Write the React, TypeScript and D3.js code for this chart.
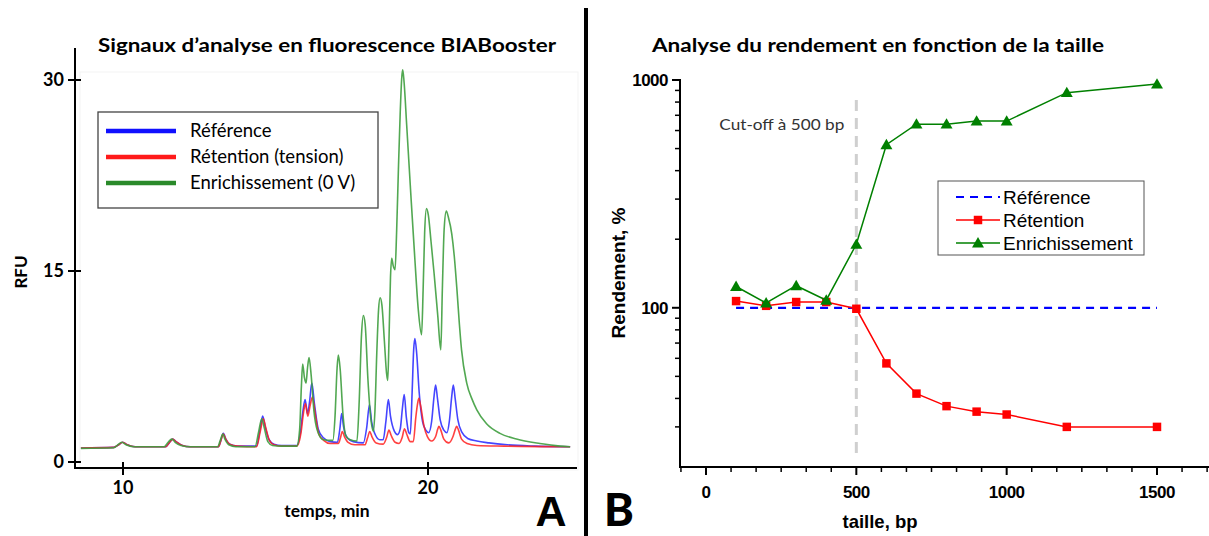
import React from 'react';
import * as d3 from 'd3';

// ---------- Texts ----------
const leftTitle = 'Signaux d’analyse en fluorescence BIABooster';
const rightTitle = 'Analyse du rendement en fonction de la taille';
const leftLegend = ['Référence', 'Rétention (tension)', 'Enrichissement (0 V)'];
const rightLegend = ['Référence', 'Rétention', 'Enrichissement'];

// ---------- Panel A : ticks ----------
const leftYTicks = [0, 15, 30];
const leftXTicks = [10, 20];

// ---------- Panel A : traces [time min, RFU] ----------
const blueTrace: [number, number][] = [
  [8.62, 1.1], [9.7, 1.15], [9.86, 1.35], [9.99, 1.55], [10.14, 1.35], [10.4, 1.2],
  [11.4, 1.2], [11.53, 1.55], [11.63, 1.8], [11.74, 1.6], [11.95, 1.3], [12.2, 1.2],
  [13.13, 1.2], [13.21, 1.7], [13.29, 2.25], [13.37, 1.8], [13.5, 1.4], [13.75, 1.25],
  [14.38, 1.25], [14.49, 2.5], [14.58, 3.6], [14.66, 2.8], [14.78, 1.8], [14.95, 1.4], [15.2, 1.3],
  [15.7, 1.3], [15.81, 2.2], [15.9, 4.0], [15.97, 4.9], [16.05, 3.8], [16.12, 4.8], [16.19, 6.2],
  [16.28, 4.5], [16.4, 2.6], [16.57, 1.9], [16.8, 1.6], [17.03, 1.55], [17.11, 2.6], [17.17, 3.8],
  [17.23, 2.8], [17.35, 1.9], [17.55, 1.6], [17.88, 1.5], [17.99, 2.7], [18.08, 4.5], [18.15, 3.2],
  [18.28, 2.1], [18.42, 1.75], [18.53, 1.75], [18.62, 3.2], [18.7, 4.9], [18.77, 3.6], [18.9, 2.4],
  [19.0, 2.15], [19.09, 2.6], [19.16, 4.2], [19.22, 5.3], [19.29, 3.5], [19.37, 2.3], [19.42, 2.2],
  [19.48, 5.5], [19.53, 8.8], [19.57, 9.7], [19.63, 8.5], [19.71, 5.5], [19.82, 3.2], [19.93, 2.5],
  [20.02, 2.3], [20.12, 3.2], [20.2, 5.2], [20.25, 6.05], [20.31, 5.0], [20.4, 3.3], [20.52, 2.5],
  [20.62, 2.3], [20.7, 3.2], [20.78, 5.2], [20.83, 6.05], [20.89, 5.0], [20.98, 3.3], [21.12, 2.3],
  [21.3, 1.85], [21.6, 1.65], [22.0, 1.5], [22.6, 1.35], [23.5, 1.25], [24.66, 1.2],
];

const redTrace: [number, number][] = [
  [8.62, 1.1], [9.7, 1.15], [9.86, 1.35], [9.99, 1.55], [10.14, 1.35], [10.4, 1.2],
  [11.4, 1.2], [11.53, 1.55], [11.63, 1.8], [11.74, 1.6], [11.95, 1.3], [12.2, 1.2],
  [13.13, 1.2], [13.21, 1.7], [13.29, 2.2], [13.37, 1.8], [13.5, 1.4], [13.75, 1.25],
  [14.38, 1.2], [14.5, 2.4], [14.6, 3.4], [14.68, 2.7], [14.8, 1.7], [14.95, 1.35], [15.2, 1.25],
  [15.7, 1.25], [15.83, 2.2], [15.92, 3.9], [15.98, 4.6], [16.06, 3.6], [16.14, 4.5], [16.21, 5.1],
  [16.3, 3.8], [16.42, 2.2], [16.58, 1.7], [16.8, 1.45], [17.06, 1.45], [17.13, 1.9], [17.19, 2.4],
  [17.26, 2.0], [17.38, 1.55], [17.6, 1.35], [17.93, 1.35], [18.02, 1.9], [18.09, 2.4], [18.16, 2.0],
  [18.3, 1.5], [18.53, 1.4], [18.64, 1.9], [18.72, 2.5], [18.79, 2.1], [18.92, 1.55], [19.05, 1.45],
  [19.15, 1.9], [19.23, 2.6], [19.3, 2.2], [19.42, 1.6], [19.52, 1.6], [19.6, 3.5], [19.66, 4.6],
  [19.7, 5.0], [19.76, 4.4], [19.87, 2.8], [19.98, 2.0], [20.12, 1.65], [20.25, 2.0], [20.32, 2.6],
  [20.36, 2.8], [20.42, 2.5], [20.52, 1.8], [20.68, 1.5], [20.82, 2.0], [20.9, 2.6], [20.94, 2.8],
  [21.0, 2.5], [21.1, 1.8], [21.28, 1.45], [21.6, 1.3], [22.5, 1.25], [24.66, 1.2],
];

const greenTrace: [number, number][] = [
  [8.62, 1.07], [9.7, 1.12], [9.83, 1.35], [9.96, 1.55], [10.1, 1.35], [10.35, 1.2],
  [11.35, 1.2], [11.48, 1.55], [11.6, 1.8], [11.71, 1.55], [11.9, 1.3], [12.2, 1.2],
  [13.1, 1.2], [13.19, 1.7], [13.27, 2.2], [13.35, 1.75], [13.47, 1.35], [13.7, 1.2],
  [14.33, 1.2], [14.45, 2.4], [14.55, 3.4], [14.63, 2.7], [14.75, 1.6], [14.9, 1.3], [15.2, 1.25],
  [15.7, 1.25], [15.79, 2.5], [15.85, 6.0], [15.89, 7.7], [15.95, 6.6], [16.0, 6.2], [16.05, 7.4],
  [16.1, 8.2], [16.17, 6.8], [16.26, 4.0], [16.37, 2.5], [16.57, 1.75], [16.88, 1.7],
  [16.95, 3.5], [17.02, 7.4], [17.06, 8.4], [17.12, 7.3], [17.21, 3.8], [17.3, 2.1], [17.45, 1.75],
  [17.67, 1.65], [17.74, 4.5], [17.82, 10.0], [17.88, 11.5], [17.94, 10.8], [18.03, 6.5],
  [18.13, 3.3], [18.21, 2.4], [18.26, 4.0], [18.32, 8.5], [18.38, 12.0], [18.43, 12.9],
  [18.49, 12.3], [18.57, 9.5], [18.64, 7.0], [18.68, 6.4], [18.72, 9.5], [18.77, 14.5],
  [18.81, 16.0], [18.86, 15.4], [18.92, 15.1], [18.97, 18.0], [19.03, 23.0], [19.09, 27.5],
  [19.14, 30.2], [19.17, 30.8], [19.21, 30.0], [19.3, 26.5], [19.45, 20.5], [19.57, 15.9],
  [19.68, 12.0], [19.79, 10.0], [19.84, 13.5], [19.89, 18.0], [19.95, 19.9], [20.01, 19.4],
  [20.1, 17.3], [20.2, 14.8], [20.32, 11.5], [20.42, 8.8], [20.47, 13.5], [20.53, 18.3],
  [20.6, 19.7], [20.67, 19.2], [20.78, 17.9], [20.86, 16.2], [20.95, 13.5], [21.03, 10.8],
  [21.1, 8.8], [21.27, 6.2], [21.45, 4.9], [21.6, 4.1], [21.92, 3.0], [22.36, 2.25],
  [22.9, 1.8], [23.67, 1.45], [24.33, 1.25], [24.66, 1.2],
];

// ---------- Panel B : data ----------
const sizes = [100, 200, 300, 400, 500, 600, 700, 800, 900, 1000, 1200, 1500];
const referenceYield = [100, 100, 100, 100, 100, 100, 100, 100, 100, 100, 100, 100];
const retentionYield = [107, 102, 106, 106, 99, 57, 42, 37, 35, 34, 30, 30];
const enrichYield = [124, 105, 125, 108, 190, 520, 640, 640, 660, 660, 880, 960];
const rightXTicks = [0, 500, 1000, 1500];
const rightYTicks = [100, 1000];
const cutoff = 500;

const W = 1209;
const H = 536;
const calibri = 'Lato, "Open Sans", sans-serif';
const arial = '"Liberation Sans", Arial, sans-serif';

export default function App() {
  // ---- Panel A scales
  const xL = d3.scaleLinear().domain([10, 20]).range([123, 428]);
  const yL = d3.scaleLinear().domain([0, 30]).range([462, 80]);
  const lineL = d3
    .line<[number, number]>()
    .x((d) => xL(d[0]))
    .y((d) => yL(d[1]))
    .curve(d3.curveMonotoneX);

  // ---- Panel B scales
  const xR = d3.scaleLinear().domain([0, 1500]).range([706, 1157]);
  const yR = d3.scaleLog().domain([20, 1000]).range([467, 80]);
  const lineR = d3
    .line<[number, number]>()
    .x((d) => xR(d[0]))
    .y((d) => yR(d[1]));

  const refPts = sizes.map((s, i) => [s, referenceYield[i]] as [number, number]);
  const retPts = sizes.map((s, i) => [s, retentionYield[i]] as [number, number]);
  const enrPts = sizes.map((s, i) => [s, enrichYield[i]] as [number, number]);

  const minorX = d3.range(-1, 21).map((k) => (k * 500) / 6).filter((v) => !rightXTicks.includes(Math.round(v)));
  const minorY = [30, 40, 50, 60, 70, 80, 90, 200, 300, 400, 500, 600, 700, 800, 900];

  const tri = d3.symbol().type(d3.symbolTriangle).size(62)();
  const sq = d3.symbol().type(d3.symbolSquare).size(72)();

  return (
    <svg width={W} height={H} style={{ position: 'absolute', left: 0, top: 0, background: '#fff' }}>
      <rect x={0} y={0} width={W} height={H} fill="#fff" />

      {/* ================= Panel A ================= */}
      <text x={327} y={52} textAnchor="middle" fontFamily={calibri} fontWeight="bold" fontSize={19}
        textLength={458} lengthAdjust="spacingAndGlyphs">{leftTitle}</text>

      <rect x={80} y={72} width={498} height={398} fill="none" stroke="#f3f3f3" strokeWidth={1} />

      {/* traces */}
      <g fill="none" strokeWidth={1.6} strokeLinejoin="round">
        <path d={lineL(blueTrace) || ''} stroke="#2525ff" strokeOpacity={0.85} />
        <path d={lineL(redTrace) || ''} stroke="#ff2020" strokeOpacity={0.85} />
        <path d={lineL(greenTrace) || ''} stroke="#3f9f3f" strokeOpacity={0.9} />
      </g>

      {/* axes */}
      <line x1={75} y1={48} x2={75} y2={469} stroke="#000" strokeWidth={2} />
      <line x1={74} y1={468} x2={577} y2={468} stroke="#000" strokeWidth={2} />
      {leftYTicks.map((t) => (
        <g key={'ly' + t}>
          <line x1={68} x2={81} y1={yL(t)} y2={yL(t)} stroke="#000" strokeWidth={2} />
          <text x={64} y={yL(t)} dy="0.35em" textAnchor="end" fontFamily={calibri} fontWeight="bold" fontSize={18}>
            {t}
          </text>
        </g>
      ))}
      {leftXTicks.map((t) => (
        <g key={'lx' + t}>
          <line x1={xL(t)} x2={xL(t)} y1={462} y2={475} stroke="#000" strokeWidth={2} />
          <text x={xL(t)} y={494} textAnchor="middle" fontFamily={calibri} fontWeight="bold" fontSize={18}>
            {t}
          </text>
        </g>
      ))}
      <text transform="translate(27,272) rotate(-90)" textAnchor="middle" fontFamily={calibri} fontWeight="bold" fontSize={17}>
        RFU
      </text>
      <text x={327} y={517} textAnchor="middle" fontFamily={calibri} fontWeight="bold" fontSize={17.5}>
        temps, min
      </text>
      <text x={551} y={526} textAnchor="middle" fontFamily={arial} fontWeight="bold" fontSize={43}>
        A
      </text>

      {/* legend A */}
      <rect x={98} y={112} width={280} height={96} fill="#fff" stroke="#444" strokeWidth={1.3} />
      {leftLegend.map((name, i) => (
        <g key={'ll' + i}>
          <line x1={106} x2={176} y1={131 + i * 26} y2={131 + i * 26}
            stroke={['#1010ff', '#ff1a1a', '#2a8a2a'][i]} strokeWidth={4.5} />
          <text x={190} y={131 + i * 26} dy="0.35em" fontFamily={calibri} fontSize={18.5}>
            {name}
          </text>
        </g>
      ))}

      {/* divider */}
      <line x1={586} x2={586} y1={8} y2={536} stroke="#000" strokeWidth={4} />

      {/* ================= Panel B ================= */}
      <text x={878} y={52} textAnchor="middle" fontFamily={calibri} fontWeight="bold" fontSize={19}
        textLength={452} lengthAdjust="spacingAndGlyphs">{rightTitle}</text>

      {/* cut-off */}
      <line x1={xR(cutoff)} x2={xR(cutoff)} y1={100} y2={458} stroke="#cfcfcf" strokeWidth={3} strokeDasharray="11 7" />
      <text x={xR(cutoff) - 12} y={125} dy="0.35em" textAnchor="end" fontFamily={calibri} fontSize={15} fill="#333"
        textLength={125} lengthAdjust="spacingAndGlyphs">
        Cut-off à 500 bp
      </text>

      {/* series */}
      <path d={lineR(refPts) || ''} fill="none" stroke="#0000ff" strokeWidth={2.2} strokeDasharray="8 6" />
      <path d={lineR(retPts) || ''} fill="none" stroke="#ff0000" strokeWidth={1.5} />
      {retPts.map((d, i) => (
        <path key={'sq' + i} d={sq || ''} transform={`translate(${xR(d[0])},${yR(d[1])})`} fill="#ff0000" />
      ))}
      <path d={lineR(enrPts) || ''} fill="none" stroke="#008000" strokeWidth={1.5} />
      {enrPts.map((d, i) => (
        <path key={'tr' + i} d={tri || ''} transform={`translate(${xR(d[0])},${yR(d[1]) + 1})`} fill="#008000" />
      ))}

      {/* axes B */}
      <line x1={680} y1={79} x2={680} y2={468} stroke="#000" strokeWidth={2} />
      <line x1={679} y1={467} x2={1209} y2={467} stroke="#000" strokeWidth={2} />
      {rightYTicks.map((t) => (
        <g key={'ry' + t}>
          <line x1={672} x2={680} y1={yR(t)} y2={yR(t)} stroke="#000" strokeWidth={2} />
          <text x={668} y={yR(t)} dy="0.35em" textAnchor="end" fontFamily={arial} fontWeight="bold" fontSize={17}
            letterSpacing={-0.5}>
            {t}
          </text>
        </g>
      ))}
      {minorY.map((t) => (
        <line key={'rmy' + t} x1={675} x2={680} y1={yR(t)} y2={yR(t)} stroke="#000" strokeWidth={1.5} />
      ))}
      {rightXTicks.map((t) => (
        <g key={'rx' + t}>
          <line x1={xR(t)} x2={xR(t)} y1={467} y2={475} stroke="#000" strokeWidth={2} />
          <text x={xR(t)} y={498} textAnchor="middle" fontFamily={arial} fontWeight="bold" fontSize={17}
            letterSpacing={-0.5}>
            {t}
          </text>
        </g>
      ))}
      {minorX.map((t, i) => (
        <line key={'rmx' + i} x1={xR(t)} x2={xR(t)} y1={467} y2={472} stroke="#000" strokeWidth={1.5} />
      ))}
      <text transform="translate(625,273) rotate(-90)" textAnchor="middle" fontFamily={arial} fontWeight="bold" fontSize={19}>
        Rendement, %
      </text>
      <text x={880} y={528} textAnchor="middle" fontFamily={arial} fontWeight="bold" fontSize={18.5}>
        taille, bp
      </text>
      <text x={619} y={526} textAnchor="middle" fontFamily={calibri} fontWeight="900" fontSize={45}>
        B
      </text>

      {/* legend B */}
      <rect x={938} y={181} width={206} height={74} fill="#fff" stroke="#555" strokeWidth={1} />
      {rightLegend.map((name, i) => {
        const ly = 197 + i * 23;
        return (
          <g key={'rl' + i}>
            {i === 0 ? (
              <line x1={956} x2={1000} y1={ly} y2={ly} stroke="#0000ff" strokeWidth={2.2} strokeDasharray="8 6" />
            ) : (
              <line x1={956} x2={1000} y1={ly} y2={ly} stroke={i === 1 ? '#ff0000' : '#008000'} strokeWidth={1.5} />
            )}
            {i === 1 && <path d={sq || ''} transform={`translate(978,${ly})`} fill="#ff0000" />}
            {i === 2 && <path d={tri || ''} transform={`translate(978,${ly + 1})`} fill="#008000" />}
            <text x={1003} y={ly} dy="0.36em" fontFamily={arial} fontSize={19}>
              {name}
            </text>
          </g>
        );
      })}
    </svg>
  );
}
